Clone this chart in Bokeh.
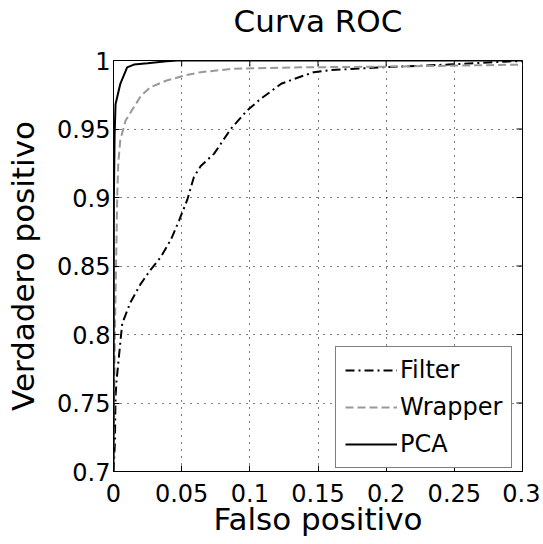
from bokeh.plotting import figure
from bokeh.models import FixedTicker, Legend, LegendItem, Range1d
from bokeh.embed import file_html
from bokeh.resources import INLINE

# ---- data ----
pca_x = [0, 0.0003, 0.0008, 0.0015, 0.005, 0.010, 0.015, 0.025, 0.039, 0.047, 0.3]
pca_y = [0.7, 0.90, 0.945, 0.968, 0.983, 0.995, 0.997, 0.998, 0.9995, 1.0, 1.0]

wrapper_x = [0, 0.001, 0.0022, 0.0027, 0.0035, 0.005, 0.0088, 0.015, 0.02, 0.027,
             0.039, 0.052, 0.064, 0.088, 0.1375, 0.2, 0.3]
wrapper_y = [0.7, 0.80, 0.869, 0.90, 0.925, 0.942, 0.956, 0.966, 0.974, 0.9805,
             0.9854, 0.989, 0.9915, 0.994, 0.995, 0.9955, 0.997]

filter_x = [0, 0.001, 0.0015, 0.0022, 0.0039, 0.0064, 0.0125, 0.02, 0.027, 0.0346,
            0.042, 0.048, 0.054, 0.059, 0.064, 0.0738, 0.086, 0.098, 0.108, 0.123,
            0.1326, 0.147, 0.16, 0.196, 0.245, 0.294, 0.3]
filter_y = [0.7, 0.72, 0.754, 0.766, 0.783, 0.808, 0.8236, 0.837, 0.847, 0.8564,
            0.869, 0.883, 0.898, 0.915, 0.923, 0.932, 0.95, 0.9635, 0.972, 0.983,
            0.9866, 0.9915, 0.993, 0.995, 0.997, 0.9995, 0.9995]

x_ticks = [0, 0.05, 0.1, 0.15, 0.2, 0.25, 0.3]
x_tick_labels = ["0", "0.05", "0.1", "0.15", "0.2", "0.25", "0.3"]
y_ticks = [0.7, 0.75, 0.8, 0.85, 0.9, 0.95, 1.0]
y_tick_labels = ["0.7", "0.75", "0.8", "0.85", "0.9", "0.95", "1"]

FONT = "DejaVu Sans"
W, H = 540, 544
BL, BR, BT, BB = 113, 18, 60, 73
TICK = 6  # px

x0, x1 = 0, 0.3
y0, y1 = 0.7, 1.0

p = figure(width=W, height=H, output_backend="svg", toolbar_location=None,
           x_range=Range1d(x0, x1), y_range=Range1d(y0, y1),
           min_border_left=BL, min_border_right=BR, min_border_top=BT,
           min_border_bottom=BB)

p.title.text = "Curva ROC"
p.title.align = "center"
p.title.vertical_align = "bottom"
p.title.text_font = FONT
p.title.text_font_size = "31px"
p.title.text_font_style = "normal"
p.title.text_color = "black"
p.title.standoff = 0
p.title.padding = dict(left=0, right=0, top=0, bottom=22)

p.outline_line_color = "black"
p.outline_line_width = 1
p.background_fill_color = "white"
p.border_fill_color = "white"

for ax, ticks, labels in ((p.xaxis[0], x_ticks, x_tick_labels), (p.yaxis[0], y_ticks, y_tick_labels)):
    ax.ticker = FixedTicker(ticks=ticks)
    ax.major_label_overrides = {t: l for t, l in zip(ticks, labels)}
    ax.major_tick_in = TICK
    ax.major_tick_out = 0
    ax.minor_tick_in = 0
    ax.minor_tick_out = 0
    ax.axis_line_color = "black"
    ax.major_tick_line_color = "black"
    ax.major_label_text_font = FONT
    ax.major_label_text_font_size = "24px"
    ax.major_label_text_color = "black"
    ax.axis_label_text_font = FONT
    ax.axis_label_text_font_size = "31px"
    ax.axis_label_text_font_style = "normal"
    ax.axis_label_text_color = "black"

p.xaxis.axis_label = "Falso positivo"
p.yaxis.axis_label = "Verdadero positivo"
p.xaxis.major_label_standoff = 12
p.xaxis.axis_label_standoff = -4
p.yaxis.major_label_standoff = 3
p.yaxis.axis_label_standoff = 13

# mirrored inward ticks on the top and right edges
fw = W - BL - BR
fh = H - BT - BB
dy = TICK * (y1 - y0) / fh
dx = TICK * (x1 - x0) / fw
p.segment(x0=x_ticks, y0=[y1] * len(x_ticks), x1=x_ticks, y1=[y1 - dy] * len(x_ticks),
          line_color="black", line_width=1)
p.segment(x0=[x1] * len(y_ticks), y0=y_ticks, x1=[x1 - dx] * len(y_ticks), y1=y_ticks,
          line_color="black", line_width=1)

p.xgrid.ticker = FixedTicker(ticks=x_ticks)
p.ygrid.ticker = FixedTicker(ticks=y_ticks)
for g in (p.xgrid[0], p.ygrid[0]):
    g.grid_line_color = "black"
    g.grid_line_dash = "1 6"
    g.grid_line_width = 1

r_filter = p.line(filter_x, filter_y, line_color="black", line_width=2, line_dash="9 4 2 4")
r_wrapper = p.line(wrapper_x, wrapper_y, line_color="#999999", line_width=2, line_dash="8 4")
r_pca = p.line(pca_x, pca_y, line_color="black", line_width=2)

legend = Legend(items=[LegendItem(label="Filter", renderers=[r_filter]),
                       LegendItem(label="Wrapper", renderers=[r_wrapper]),
                       LegendItem(label="PCA", renderers=[r_pca])],
                location=(222, 3))
legend.label_text_font = FONT
legend.label_text_font_size = "24px"
legend.label_text_color = "black"
legend.border_line_color = "black"
legend.border_line_width = 1
legend.background_fill_color = "white"
legend.background_fill_alpha = 1
legend.padding = 9
legend.margin = 0
legend.spacing = 9
legend.glyph_width = 52
legend.glyph_height = 28
legend.label_height = 28
legend.label_standoff = 3
p.add_layout(legend, "center")

open("out.html", "w").write(file_html(p, INLINE))
